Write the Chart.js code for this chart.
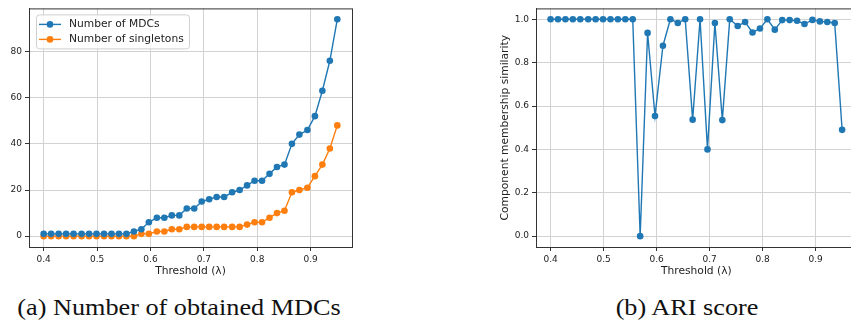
<!DOCTYPE html>
<html>
<head>
<meta charset="utf-8">
<script src="https://cdn.jsdelivr.net/npm/chart.js@4.4.1/dist/chart.umd.min.js"></script>
<style>
	html, body { margin: 0; padding: 0; background: #fff; width: 851px; height: 324px; overflow: hidden; position: relative; }
	.box { position: absolute; top: 0; height: 290px; }
	#leftBox { left: 0; width: 360px; }
	#rightBox { left: 490px; width: 370px; }
	.caption { position: absolute; top: 296px; font-family: "Liberation Serif", "DejaVu Serif", serif; font-size: 23px; line-height: 23px; color: #111; white-space: nowrap; transform: translateX(-50%) scaleX(1.14); }
	#capA { left: 179px; }
	#capB { left: 687px; }
</style>
</head>
<body>
<div class="box" id="leftBox"><canvas id="mdcChart" width="360" height="290"></canvas></div>
<div class="box" id="rightBox"><canvas id="ariChart" width="370" height="290"></canvas></div>
<div class="caption" id="capA">(a) Number of obtained MDCs</div>
<div class="caption" id="capB">(b) ARI score</div>
<script>
// thresholds: 40 points from 0.40 to 0.95
const thresholds = [
	0.400, 0.414, 0.428, 0.442, 0.456, 0.471, 0.485, 0.499, 0.513, 0.527,
	0.541, 0.555, 0.569, 0.583, 0.597, 0.612, 0.626, 0.640, 0.654, 0.668,
	0.682, 0.696, 0.710, 0.724, 0.738, 0.753, 0.767, 0.781, 0.795, 0.809,
	0.823, 0.837, 0.851, 0.865, 0.879, 0.894, 0.908, 0.922, 0.936, 0.950
];
const mdcCounts = [
	1, 1, 1, 1, 1, 1, 1, 1, 1, 1,
	1, 1, 2, 3, 6, 8, 8, 9, 9, 12,
	12, 15, 16, 17, 17, 19, 20, 22, 24, 24,
	27, 30, 31, 40, 44, 46, 52, 63, 76, 94
];
const singletonCounts = [
	0, 0, 0, 0, 0, 0, 0, 0, 0, 0,
	0, 0, 0, 1, 1, 2, 2, 3, 3, 4,
	4, 4, 4, 4, 4, 4, 4, 5, 6, 6,
	8, 10, 11, 19, 20, 21, 26, 31, 38, 48
];
const ariScores = [
	1.0, 1.0, 1.0, 1.0, 1.0, 1.0, 1.0, 1.0, 1.0, 1.0,
	1.0, 1.0, 0.0, 0.937, 0.554, 0.878, 1.0, 0.983, 1.0, 0.537,
	1.0, 0.40, 0.983, 0.535, 1.0, 0.969, 0.987, 0.939, 0.957, 1.0,
	0.952, 0.996, 0.996, 0.993, 0.978, 0.997, 0.99, 0.987, 0.983, 0.49
];
const xTicks = [0.4, 0.5, 0.6, 0.7, 0.8, 0.9];
const mdcTicks = [0, 20, 40, 60, 80];
const ariTicks = [0, 0.2, 0.4, 0.6, 0.8, 1.0];

const BLUE = '#1f77b4';
const ORANGE = '#ff7f0e';
const tickFont = { family: 'DejaVu Sans', size: 9 };
const titleFont = { family: 'DejaVu Sans', size: 10.7 };

function toPoints(xs, ys) {
	return xs.map((x, i) => ({ x: x, y: ys[i] }));
}

// matplotlib style box round the plot area
const frame = {
	id: 'frame',
	afterDraw(chart) {
		const a = chart.chartArea;
		const ctx = chart.ctx;
		ctx.save();
		ctx.strokeStyle = '#333';
		ctx.lineWidth = 1;
		ctx.strokeRect(a.left + 0.5, a.top + 0.5, a.right - a.left, a.bottom - a.top);
		ctx.restore();
	}
};

// legend drawn inside the plot, upper left
const innerLegend = {
	id: 'innerLegend',
	afterDraw(chart) {
		const a = chart.chartArea;
		const ctx = chart.ctx;
		const sets = chart.data.datasets;
		const x0 = a.left + 7, y0 = a.top + 6;
		const w = 153, h = 34;
		ctx.save();
		ctx.beginPath();
		ctx.roundRect(x0 + 0.5, y0 + 0.5, w, h, 3);
		ctx.fillStyle = 'rgba(255,255,255,0.85)';
		ctx.fill();
		ctx.strokeStyle = '#d0d0d0';
		ctx.lineWidth = 1;
		ctx.stroke();
		ctx.font = '10.7px "DejaVu Sans"';
		ctx.textBaseline = 'middle';
		sets.forEach((ds, i) => {
			const yy = y0 + 10 + i * 15;
			ctx.strokeStyle = ds.borderColor;
			ctx.lineWidth = 1.4;
			ctx.beginPath();
			ctx.moveTo(x0 + 3, yy);
			ctx.lineTo(x0 + 25, yy);
			ctx.stroke();
			ctx.fillStyle = ds.borderColor;
			ctx.beginPath();
			ctx.arc(x0 + 14, yy, 3.3, 0, Math.PI * 2);
			ctx.fill();
			ctx.fillStyle = '#222';
			ctx.fillText(ds.label, x0 + 33, yy);
		});
		ctx.restore();
	}
};

function xScale() {
	return {
		type: 'linear',
		min: 0.3725,
		max: 0.9775,
		afterBuildTicks: s => { s.ticks = xTicks.map(v => ({ value: v })); },
		afterFit: s => { s.height = 43; },
		ticks: { font: tickFont, color: '#222', padding: 3, callback: v => v.toFixed(1) },
		grid: { color: '#d2d2d2', tickColor: '#333', tickLength: 4 },
		border: { color: '#333' },
		title: { display: true, text: 'Threshold (\u03bb)', font: titleFont, color: '#222', padding: { top: 0, bottom: 12.5 } }
	};
}

function lineSet(label, xs, ys, color) {
	return {
		label: label,
		data: toPoints(xs, ys),
		borderColor: color,
		backgroundColor: color,
		borderWidth: 1.4,
		pointRadius: 3.3,
		pointHoverRadius: 3.3,
		pointBorderWidth: 0,
		tension: 0
	};
}

new Chart(document.getElementById('mdcChart'), {
	type: 'line',
	data: {
		datasets: [
			lineSet('Number of MDCs', thresholds, mdcCounts, BLUE),
			lineSet('Number of singletons', thresholds, singletonCounts, ORANGE)
		]
	},
	options: {
		responsive: false,
		animation: false,
		layout: { padding: { top: 5, right: 8, left: 0, bottom: 0 } },
		plugins: { legend: { display: false }, tooltip: { enabled: false } },
		scales: {
			x: xScale(),
			y: {
				min: -4.7,
				max: 98.7,
				afterBuildTicks: s => { s.ticks = mdcTicks.map(v => ({ value: v })); },
				afterFit: s => { s.width = 29; },
				ticks: { font: tickFont, color: '#222', padding: 3 },
				grid: { color: '#d2d2d2', tickColor: '#333', tickLength: 4 },
				border: { color: '#333' }
			}
		}
	},
	plugins: [frame, innerLegend]
});

new Chart(document.getElementById('ariChart'), {
	type: 'line',
	data: {
		datasets: [lineSet('ARI', thresholds, ariScores, BLUE)]
	},
	options: {
		responsive: false,
		animation: false,
		layout: { padding: { top: 5, right: 2, left: 0, bottom: 0 } },
		plugins: { legend: { display: false }, tooltip: { enabled: false } },
		scales: {
			x: xScale(),
			y: {
				min: -0.05,
				max: 1.05,
				afterBuildTicks: s => { s.ticks = ariTicks.map(v => ({ value: v })); },
				afterFit: s => { s.width = 46; },
				ticks: { font: tickFont, color: '#222', padding: 3, callback: v => v.toFixed(1) },
				grid: { color: '#d2d2d2', tickColor: '#333', tickLength: 4 },
				border: { color: '#333' },
				title: { display: true, text: 'Component membership similarity', font: titleFont, color: '#222', padding: { top: 8.5, bottom: 0 } }
			}
		}
	},
	plugins: [frame]
});
</script>
</body>
</html>
